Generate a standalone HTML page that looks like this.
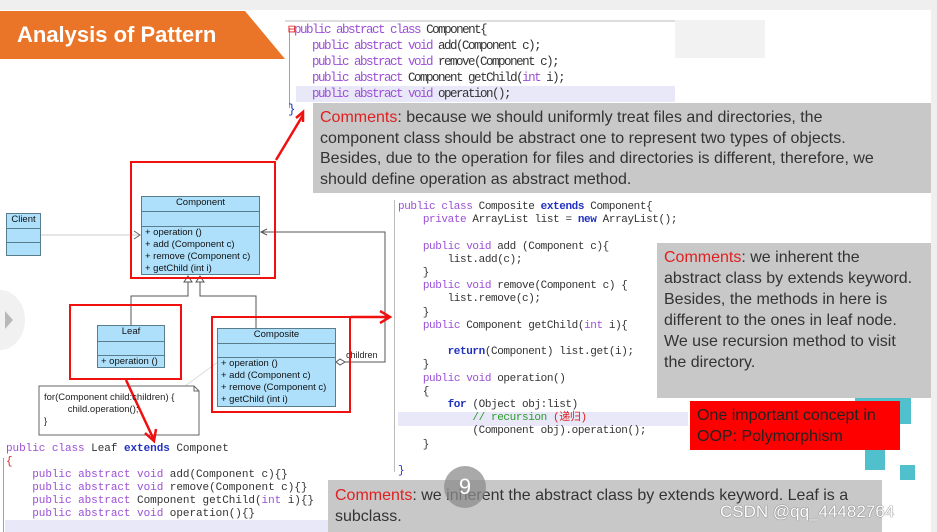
<!DOCTYPE html>
<html><head><meta charset="utf-8"><style>
body{margin:0;width:937px;height:532px;overflow:hidden;background:#fff;position:relative;font-family:"Liberation Sans",sans-serif}
.a{position:absolute}
.code{font-family:"Liberation Mono",monospace;white-space:pre;color:#333}
.k{color:#9b4fd6}.b{color:#2030c0;font-weight:bold}.g{color:#2a9a2a}
.cm{background:#c8c8c8;color:#333;font-size:16px;line-height:20.7px;padding:0 0 0 7px;box-sizing:border-box}
.r{color:#e02020}
.uml{position:absolute;background:#aee0fb;border:1px solid #5a7d8e;box-sizing:border-box;font-size:9.5px;color:#111}
.uml .h{text-align:center;border-bottom:1px solid #5a7d8e}
.uml .e{border-bottom:1px solid #5a7d8e}
.uml .m{padding-left:3px;line-height:12px}
.rb{position:absolute;border:2px solid #f01010;box-sizing:border-box}
</style></head><body>
<div class="a" style="left:0;top:0;width:937px;height:10px;background:#efefef"></div>
<div class="a" style="left:931px;top:0;width:6px;height:532px;background:#efefef"></div>
<svg class="a" style="left:0;top:0" width="300" height="62"><polygon points="0,11 245,11 285,59 0,59" fill="#ea7428"/></svg>
<div class="a" style="left:17px;top:22px;color:#fff;font-weight:bold;font-size:22px">Analysis of Pattern</div>
<div class="a" style="left:675px;top:20px;width:90px;height:38px;background:#f2f2f2"></div>
<div class="a" style="left:285px;top:20px;width:390px;height:96px;background:#fff;border-top:2px solid #ddd"></div>
<div class="a" style="left:296px;top:86px;width:379px;height:16px;background:#e8e8f8"></div>
<div class="a" style="left:289px;top:28px;width:1px;height:80px;background:#f08080"></div>
<div class="a code" style="left:288px;top:22px;font-size:12.5px;letter-spacing:-1.5px;line-height:16px"><span class="r">⊟</span><span class="k">public abstract class</span> Component{
    <span class="k">public abstract void</span> add(Component c);
    <span class="k">public abstract void</span> remove(Component c);
    <span class="k">public abstract</span> Component getChild(<span class="k">int</span> i);
    <span class="k">public abstract void</span> operation();
<span style="color:#2030c0">}</span></div>
<div class="a cm" style="left:313px;top:103px;width:618px;height:90px;padding-top:5px"><span class="r">Comments</span>: because we should uniformly treat files and directories, the<br>component class should be abstract one to represent two types of objects.<br>Besides, due to the operation for files and directories is different, therefore, we<br>should define operation as abstract method.</div>

<div class="a" style="left:393px;top:197px;width:382px;height:282px;background:#fff"></div>
<div class="a" style="left:398px;top:412px;width:290px;height:14px;background:#e8e8f8"></div>
<div class="a" style="left:394px;top:200px;width:1px;height:272px;background:#bbb"></div>
<div class="a code" style="left:398px;top:201px;font-size:11px;letter-spacing:-0.4px;line-height:13.2px"><span class="k">public class</span> Composite <span class="b">extends</span> Component{
    <span class="k">private</span> ArrayList list = <span class="b">new</span> ArrayList();

    <span class="k">public void</span> add (Component c){
        list.add(c);
    }
    <span class="k">public void</span> remove(Component c) {
        list.remove(c);
    }
    <span class="k">public</span> Component getChild(<span class="k">int</span> i){

        <span class="b">return</span>(Component) list.get(i);
    }
    <span class="k">public void</span> operation()
    {
        <span class="b">for</span> (Object obj:list)
            <span class="g">// recursion </span><span class="r">(递归)</span>
            (Component obj).operation();
    }

<span style="color:#2030c0">}</span></div>
<div class="a cm" style="left:657px;top:243px;width:274px;height:155px;padding-top:4px;line-height:21px"><span class="r">Comments</span>: we inherent the<br>abstract class by extends keyword.<br>Besides, the methods in here is<br>different to the ones in leaf node.<br>We use recursion method to visit<br>the directory.</div>
<div class="a" style="left:855px;top:398px;width:56px;height:26px;background:#4fc0cc"></div>
<div class="a" style="left:865px;top:450px;width:20px;height:20px;background:#4fc0cc"></div>
<div class="a" style="left:900px;top:465px;width:15px;height:15px;background:#4fc0cc"></div>
<div class="a" style="left:690px;top:401px;width:210px;height:49px;background:#fe0000;color:#222;font-size:16px;line-height:21px;padding:4px 0 0 7px;box-sizing:border-box">One important concept in<br>OOP: Polymorphism</div>

<div class="a" style="left:0;top:440px;width:330px;height:92px;background:#fff"></div>
<div class="a" style="left:5px;top:520px;width:325px;height:12px;background:#e8e8f8"></div>
<div class="a" style="left:3px;top:458px;width:1px;height:74px;background:#f08080"></div>
<div class="a code" style="left:6px;top:443px;font-size:11px;letter-spacing:-0.05px;line-height:13px"><span class="k">public class</span> Leaf <span class="b">extends</span> Componet
<span class="r">{</span>
    <span class="k">public abstract void</span> add(Component c){}
    <span class="k">public abstract void</span> remove(Component c){}
    <span class="k">public abstract</span> Component getChild(<span class="k">int</span> i){}
    <span class="k">public abstract void</span> operation(){}</div>
<div class="a cm" style="left:328px;top:480px;width:554px;height:52px;padding-top:5px;line-height:21px"><span class="r">Comments</span>: we inherent the abstract class by extends keyword. Leaf is a<br>subclass.</div>
<div class="a" style="left:444px;top:466px;width:42px;height:42px;border-radius:50%;background:rgba(140,140,140,.75);color:#fff;font-size:22px;text-align:center;line-height:42px">9</div>
<div class="a" style="left:720px;top:502px;color:#fff;font-size:17px;text-shadow:0 0 1px #666,0 0 1px #666">CSDN @qq_44482764</div>

<div class="a" style="left:-25px;top:290px;width:50px;height:60px;border-radius:50%;background:#f1f1f1"></div>
<svg class="a" style="left:0;top:0" width="937" height="532">
<polygon points="5,311 13,320 5,329" fill="#b8b8b8"/>
<line x1="41" y1="235" x2="140" y2="235" stroke="#ccc"/>
<polyline points="134,231 140,235 134,239" fill="none" stroke="#666"/>
<polyline points="131,325 131,296 188,296 188,282" fill="none" stroke="#555"/>
<polyline points="256,328 256,296 200,296 200,282" fill="none" stroke="#555"/>
<polygon points="188,276 184,282 192,282" fill="#fff" stroke="#555"/>
<polygon points="200,276 196,282 204,282" fill="#fff" stroke="#555"/>
<polyline points="344,362 385,362 385,232 261,232" fill="none" stroke="#555"/>
<polyline points="267,229 261,232 267,235" fill="none" stroke="#555"/>
<polygon points="336,362 340,359 345,362 340,365" fill="#fff" stroke="#555"/>
<line x1="185" y1="386" x2="218" y2="362" stroke="#ddd"/>
<polygon points="39,386 194,386 199,391 199,435 39,435" fill="#fff" stroke="#666"/>
<polyline points="194,386 194,391 199,391" fill="none" stroke="#666"/>
<polyline points="276,160 303,115" stroke="#f01010" stroke-width="2.5" fill="none"/>
<polyline points="296,118 303,112 303,122" stroke="#f01010" stroke-width="2.5" fill="none"/>
<line x1="351" y1="317" x2="389" y2="317" stroke="#f01010" stroke-width="2.5"/>
<polyline points="380,311 390,317 380,323" stroke="#f01010" stroke-width="2.5" fill="none"/>
<line x1="126" y1="380" x2="154" y2="440" stroke="#f01010" stroke-width="2.5"/>
<polyline points="145,433 154,441 156,429" stroke="#f01010" stroke-width="2.5" fill="none"/>
</svg>
<div class="a" style="left:44px;top:392px;font-size:9.5px;line-height:12px;color:#222">for(Component child:children) {<br>&nbsp;&nbsp;&nbsp;&nbsp;&nbsp;&nbsp;&nbsp;&nbsp;&nbsp;child.operation();<br>}</div>
<div class="uml" style="left:6px;top:213px;width:35px;height:43px"><div class="h" style="height:14px">Client</div><div class="e" style="height:13px"></div></div>
<div class="uml" style="left:141px;top:196px;width:119px;height:79px"><div class="h" style="height:14px">Component</div><div class="e" style="height:14px"></div><div class="m">+ operation ()<br>+ add (Component c)<br>+ remove (Component c)<br>+ getChild (int i)</div></div>
<div class="uml" style="left:97px;top:325px;width:68px;height:43px"><div class="h" style="height:15px">Leaf</div><div class="e" style="height:13px"></div><div class="m">+ operation ()</div></div>
<div class="uml" style="left:217px;top:328px;width:119px;height:79px"><div class="h" style="height:14px">Composite</div><div class="e" style="height:13px"></div><div class="m">+ operation ()<br>+ add (Component c)<br>+ remove (Component c)<br>+ getChild (int i)</div></div>
<div class="a" style="left:346px;top:350px;font-size:9px;color:#222">children</div>
<div class="rb" style="left:130px;top:161px;width:146px;height:118px"></div>
<div class="rb" style="left:69px;top:304px;width:113px;height:76px"></div>
<div class="rb" style="left:211px;top:316px;width:140px;height:97px"></div>
</body></html>
